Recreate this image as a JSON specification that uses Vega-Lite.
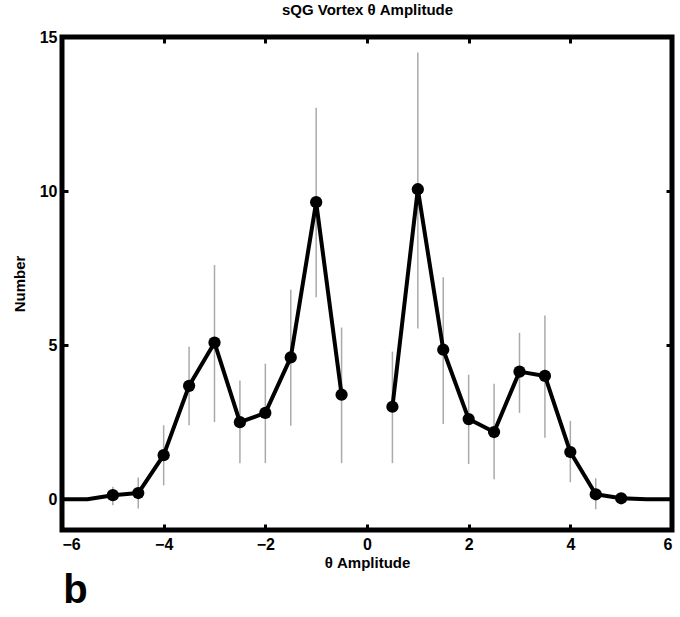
{
  "$schema": "https://vega.github.io/schema/vega-lite/v6.json",
  "width": 610,
  "height": 493,
  "autosize": "none",
  "padding": {"left": 62, "top": 37, "right": 8, "bottom": 87},
  "background": "white",
  "config": {
    "font": "Liberation Sans",
    "view": {"stroke": "black", "strokeWidth": 5},
    "axis": {
      "domain": false,
      "grid": false,
      "tickColor": "black",
      "tickWidth": 3,
      "tickSize": -6,
      "labelColor": "black",
      "labelFont": "Liberation Sans",
      "labelFontWeight": "bold",
      "labelFontSize": 16,
      "titleColor": "black",
      "titleFont": "Liberation Sans",
      "titleFontWeight": "bold",
      "titleFontSize": 15
    }
  },
  "title": {
    "text": "b",
    "orient": "bottom",
    "anchor": "start",
    "fontSize": 40,
    "fontWeight": "bold",
    "font": "Liberation Sans",
    "color": "black",
    "offset": 1,
    "dx": 51
  },
  "data": {
    "values": [
      {"x": -6, "y": 0, "lo": null, "hi": null, "seg": "L", "marker": false},
      {"x": -5.5, "y": 0, "lo": null, "hi": null, "seg": "L", "marker": false},
      {"x": -5, "y": 0.13, "lo": -0.2, "hi": 0.4, "seg": "L", "marker": true},
      {"x": -4.5, "y": 0.2, "lo": -0.3, "hi": 0.7, "seg": "L", "marker": true},
      {"x": -4, "y": 1.43, "lo": 0.45, "hi": 2.4, "seg": "L", "marker": true},
      {"x": -3.5, "y": 3.68, "lo": 2.4, "hi": 4.95, "seg": "L", "marker": true},
      {"x": -3, "y": 5.08, "lo": 2.5, "hi": 7.6, "seg": "L", "marker": true},
      {"x": -2.5, "y": 2.5, "lo": 1.17, "hi": 3.85, "seg": "L", "marker": true},
      {"x": -2, "y": 2.8, "lo": 1.17, "hi": 4.4, "seg": "L", "marker": true},
      {"x": -1.5, "y": 4.6, "lo": 2.38, "hi": 6.8, "seg": "L", "marker": true},
      {"x": -1, "y": 9.64, "lo": 6.55, "hi": 12.7, "seg": "L", "marker": true},
      {"x": -0.5, "y": 3.39, "lo": 1.17, "hi": 5.57, "seg": "L", "marker": true},
      {"x": 0.5, "y": 3.0, "lo": 1.17, "hi": 4.79, "seg": "R", "marker": true},
      {"x": 1, "y": 10.06, "lo": 5.54, "hi": 14.5, "seg": "R", "marker": true},
      {"x": 1.5, "y": 4.85, "lo": 2.44, "hi": 7.2, "seg": "R", "marker": true},
      {"x": 2, "y": 2.6, "lo": 1.14, "hi": 4.04, "seg": "R", "marker": true},
      {"x": 2.5, "y": 2.18, "lo": 0.65, "hi": 3.75, "seg": "R", "marker": true},
      {"x": 3, "y": 4.14, "lo": 2.8, "hi": 5.4, "seg": "R", "marker": true},
      {"x": 3.5, "y": 4.0, "lo": 1.99, "hi": 5.96, "seg": "R", "marker": true},
      {"x": 4, "y": 1.53, "lo": 0.55, "hi": 2.54, "seg": "R", "marker": true},
      {"x": 4.5, "y": 0.16, "lo": -0.33, "hi": 0.68, "seg": "R", "marker": true},
      {"x": 5, "y": 0.03, "lo": null, "hi": null, "seg": "R", "marker": true},
      {"x": 5.5, "y": 0, "lo": null, "hi": null, "seg": "R", "marker": false},
      {"x": 6, "y": 0, "lo": null, "hi": null, "seg": "R", "marker": false}
    ]
  },
  "resolve": {"axis": {"x": "independent", "y": "independent"}},
  "layer": [
    {
      "transform": [{"filter": "datum.lo != null"}],
      "mark": {"type": "rule", "color": "#aaaaaa", "strokeWidth": 1.5},
      "encoding": {
        "x": {
          "field": "x", "type": "quantitative",
          "scale": {"domain": [-6, 6], "nice": false, "zero": false},
          "axis": {"values": [-6, -4, -2, 0, 2, 4, 6], "title": "θ Amplitude", "labelPadding": 12, "titlePadding": 3}
        },
        "y": {
          "field": "lo", "type": "quantitative",
          "scale": {"domain": [-1, 15], "nice": false, "zero": false},
          "axis": {"values": [0, 5, 10, 15], "title": "Number", "labelPadding": 11, "titlePadding": 12}
        },
        "y2": {"field": "hi"}
      }
    },
    {
      "mark": {"type": "line", "color": "black", "strokeWidth": 4, "strokeJoin": "round"},
      "encoding": {
        "x": {"field": "x", "type": "quantitative", "axis": null},
        "y": {"field": "y", "type": "quantitative", "axis": null},
        "detail": {"field": "seg"}
      }
    },
    {
      "transform": [{"filter": "datum.marker"}],
      "mark": {"type": "point", "filled": true, "color": "black", "opacity": 1, "size": 150},
      "encoding": {
        "x": {
          "field": "x", "type": "quantitative",
          "axis": {"orient": "top", "values": [-6, -4, -2, 0, 2, 4, 6], "labels": false, "title": "sQG Vortex θ Amplitude", "titlePadding": 18}
        },
        "y": {
          "field": "y", "type": "quantitative",
          "axis": {"orient": "right", "values": [0, 5, 10, 15], "labels": false, "title": null}
        }
      }
    }
  ]
}
